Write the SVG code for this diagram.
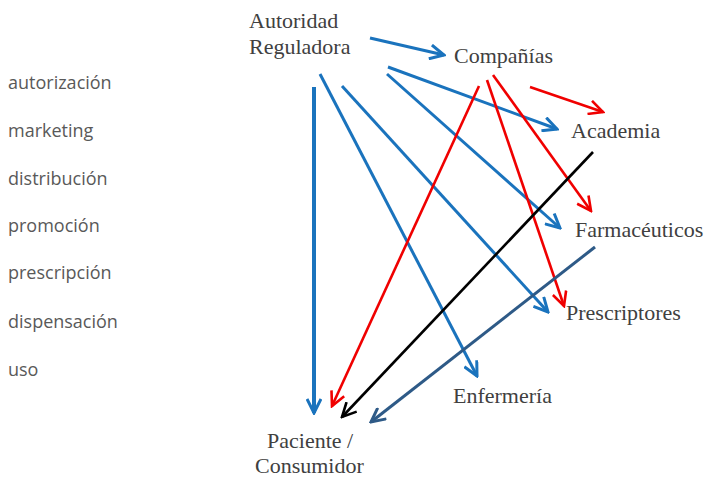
<svg xmlns="http://www.w3.org/2000/svg" width="710" height="479" viewBox="0 0 710 479">
<defs>
<style>
.lbl{font-family:"Liberation Serif","Times New Roman",serif;font-size:22px;fill:#404040}
.side{font-family:"Open Sans","Noto Sans",sans-serif;font-size:18px;fill:#595959}
.c{fill:none;stroke-linecap:butt}
.b{stroke:#1a73bd;stroke-width:3}
.r{stroke:#f00000;stroke-width:2.6}
.k{stroke:#000;stroke-width:2.6}
.d{stroke:#2e5a87;stroke-width:3}
</style>
<marker id="mb" viewBox="0 0 17 16" refX="15" refY="8" markerWidth="17" markerHeight="16" markerUnits="userSpaceOnUse" orient="auto"><path d="M1,1 L15,8 L1,15" fill="none" stroke="#1a73bd" stroke-width="3"/></marker>
<marker id="mr" viewBox="0 0 17 16" refX="15" refY="8" markerWidth="17" markerHeight="16" markerUnits="userSpaceOnUse" orient="auto"><path d="M1,1 L15,8 L1,15" fill="none" stroke="#f00000" stroke-width="2.6"/></marker>
<marker id="mk" viewBox="0 0 17 16" refX="15" refY="8" markerWidth="17" markerHeight="16" markerUnits="userSpaceOnUse" orient="auto"><path d="M1,1 L15,8 L1,15" fill="none" stroke="#000" stroke-width="2.6"/></marker>
<marker id="md" viewBox="0 0 17 16" refX="15" refY="8" markerWidth="17" markerHeight="16" markerUnits="userSpaceOnUse" orient="auto"><path d="M1,1 L15,8 L1,15" fill="none" stroke="#2e5a87" stroke-width="3"/></marker>
</defs>
<rect width="710" height="479" fill="#fff"/>
<g id="stages">
<text class="side" x="8" y="89">autorización</text>
<text class="side" x="8" y="137">marketing</text>
<text class="side" x="8" y="185">distribución</text>
<text class="side" x="8" y="232">promoción</text>
<text class="side" x="8" y="279">prescripción</text>
<text class="side" x="8" y="328">dispensación</text>
<text class="side" x="8" y="376">uso</text>
</g>
<g id="connectors">
<line class="c b" x1="370" y1="38" x2="444" y2="55" marker-end="url(#mb)"/>
<line class="c b" x1="314" y1="87" x2="314" y2="413" style="stroke-width:4" marker-end="url(#mb)"/>
<line class="c b" x1="320" y1="74" x2="477" y2="376" marker-end="url(#mb)"/>
<line class="c b" x1="342" y1="86" x2="548" y2="312" marker-end="url(#mb)"/>
<line class="c b" x1="388" y1="67" x2="557" y2="129" marker-end="url(#mb)"/>
<line class="c b" x1="387" y1="74" x2="560" y2="228" marker-end="url(#mb)"/>
<line class="c r" x1="479" y1="86" x2="332" y2="406" marker-end="url(#mr)"/>
<line class="c r" x1="487" y1="80" x2="564" y2="306" marker-end="url(#mr)"/>
<line class="c r" x1="493" y1="75" x2="591" y2="211" marker-end="url(#mr)"/>
<line class="c r" x1="530" y1="87" x2="603" y2="112" marker-end="url(#mr)"/>
<line class="c k" x1="593" y1="152" x2="342" y2="417" marker-end="url(#mk)"/>
<line class="c d" x1="595" y1="247" x2="371" y2="422" marker-end="url(#md)"/>
</g>
<g id="autoridad"><text class="lbl" x="249" y="28">Autoridad</text><text class="lbl" x="249" y="54">Reguladora</text></g>
<g id="companias"><text class="lbl" x="454" y="63">Compañías</text></g>
<g id="academia"><text class="lbl" x="571" y="138">Academia</text></g>
<g id="farmaceuticos"><text class="lbl" x="575" y="237">Farmacéuticos</text></g>
<g id="prescriptores"><text class="lbl" x="566" y="320">Prescriptores</text></g>
<g id="enfermeria"><text class="lbl" x="453" y="403">Enfermería</text></g>
<g id="paciente"><text class="lbl" x="267" y="448">Paciente /</text><text class="lbl" x="255" y="473">Consumidor</text></g>
</svg>
